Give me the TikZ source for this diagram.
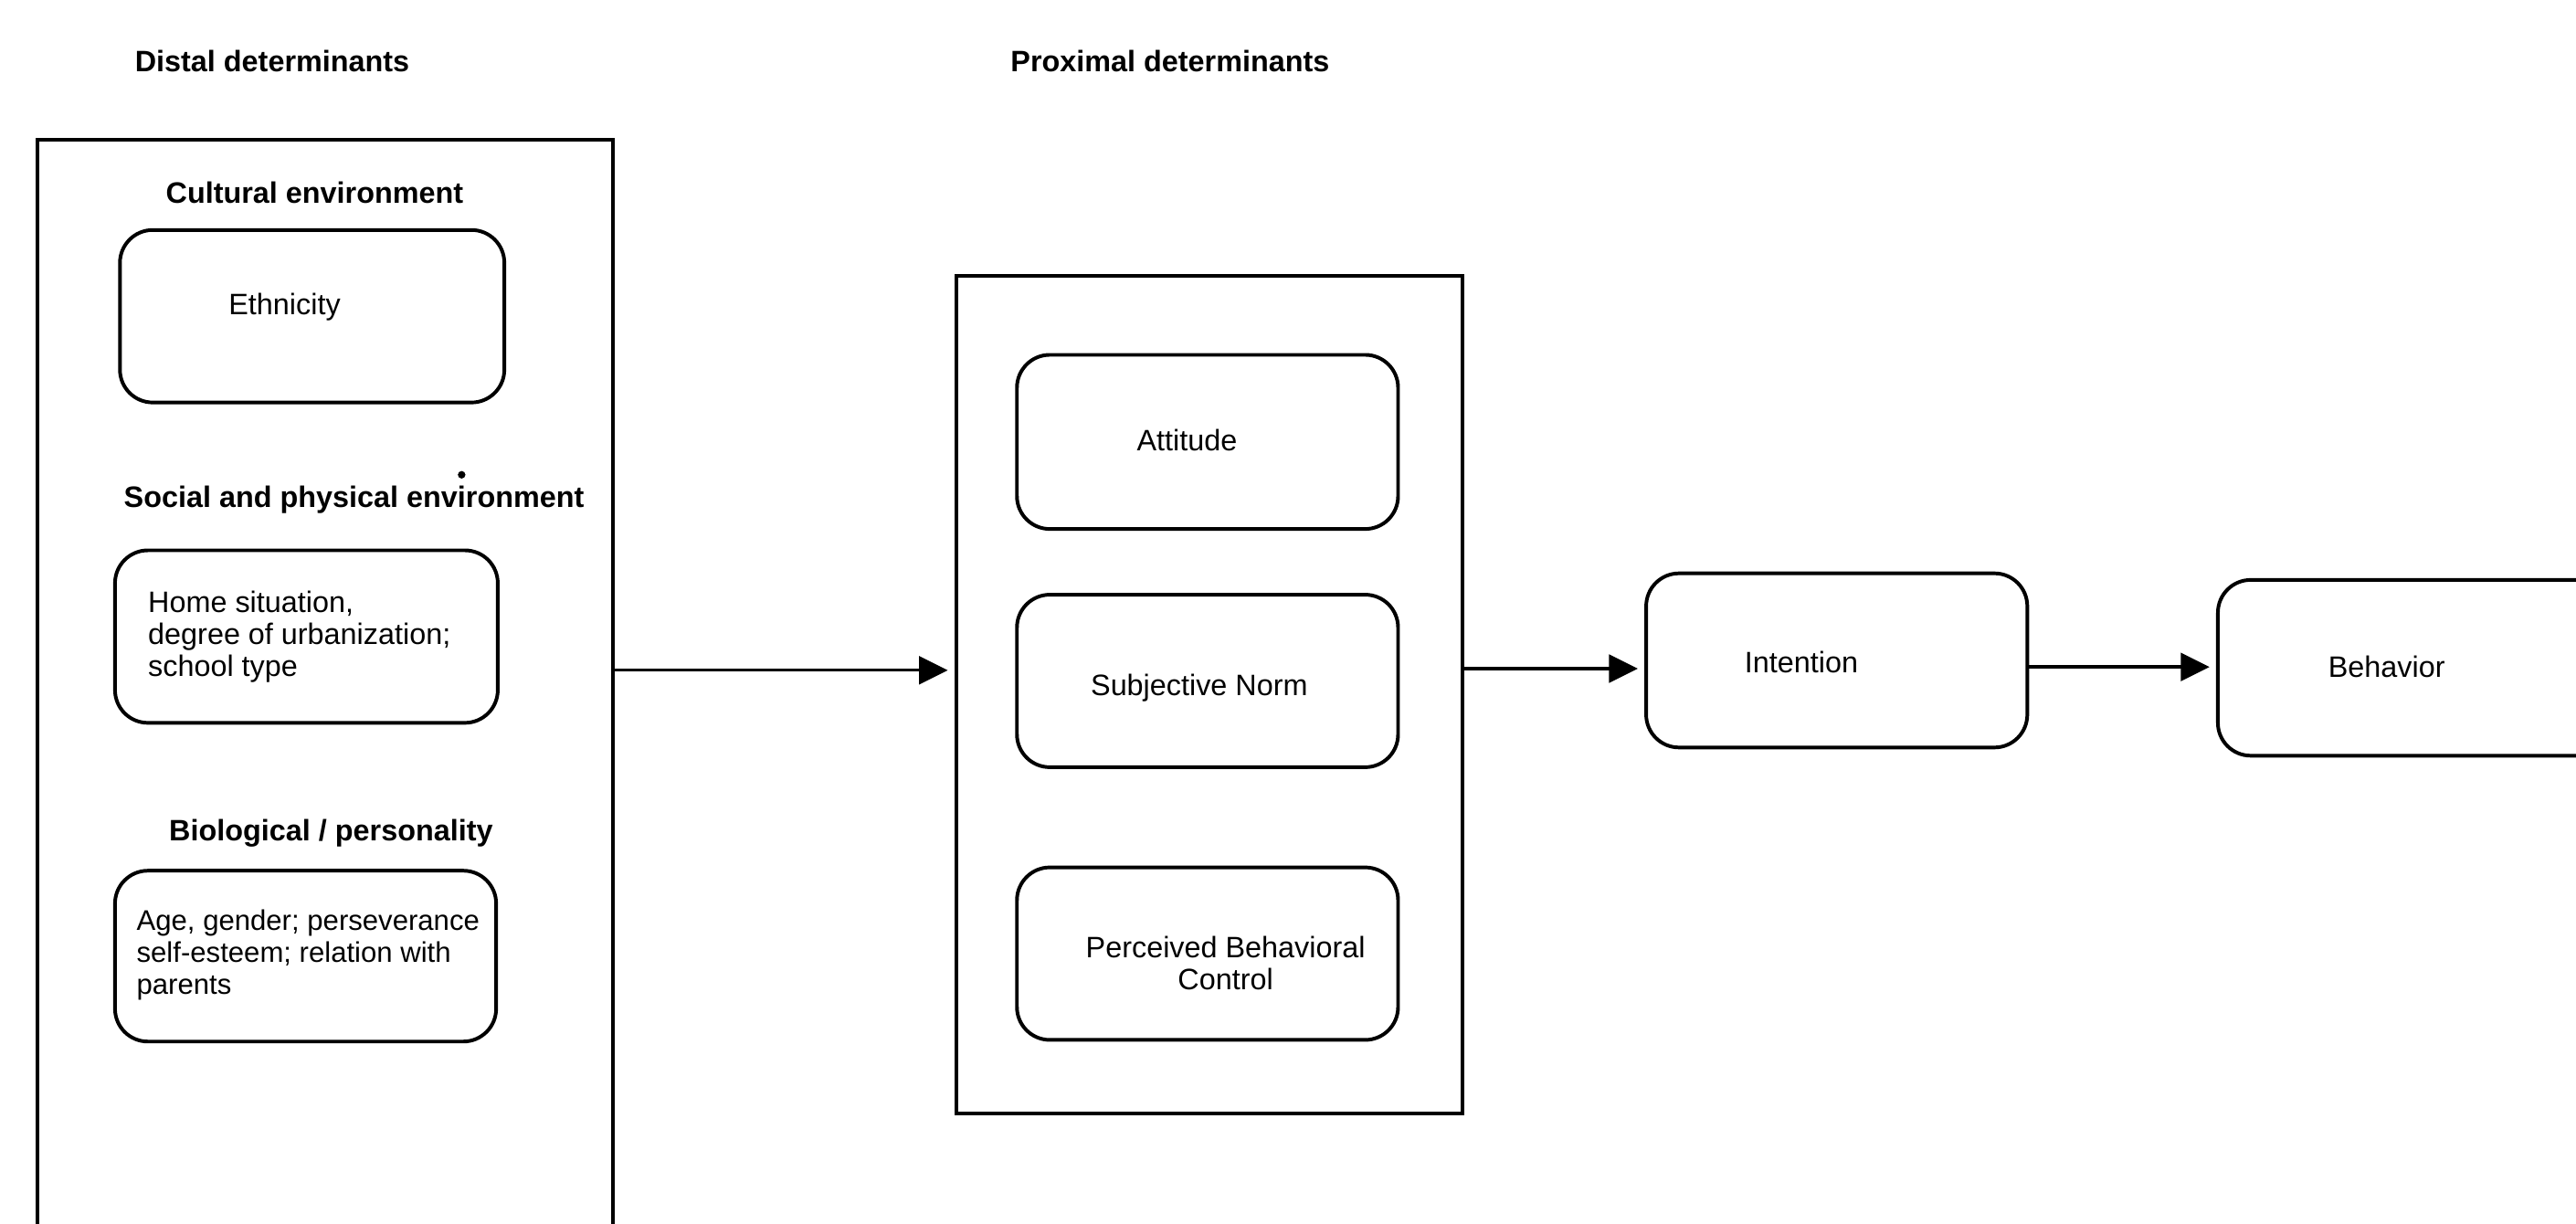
\documentclass[tikz,border=0pt]{standalone}
\usepackage{fontspec}
\setmainfont{Liberation Sans}
\usetikzlibrary{arrows.meta}

\begin{document}
\begin{tikzpicture}[x=1pt,y=-1pt,
  every node/.style={font=\fontsize{18}{19.5}\selectfont},
  frame/.style={draw, line width=2.2pt, inner sep=0pt},
  rbox/.style={draw, line width=2.2pt, rounded corners=20pt, inner sep=0pt},
  heading/.style={font=\fontsize{18}{19.5}\selectfont\bfseries, inner sep=0pt},
  txt/.style={inner sep=0pt, align=left},
  flow/.style={line width=1.9pt, -{Triangle[length=17.5pt,width=17pt]}, shorten >=4pt}
]
\useasboundingbox (0,0) rectangle (1568,745);
\clip (0,0) rectangle (1568,745);

% column headings
\node[heading, anchor=west] (hdist) at (82,37) {Distal determinants};
\node[heading, anchor=west] (hprox) at (615,37) {Proximal determinants};

% distal column frame (runs past the lower edge)
\node[frame, minimum width=350pt, minimum height=700pt] (distal) at (198,435) {};

% cultural environment
\node[heading] (hcult) at (191.5,117) {Cultural environment};
\node[rbox, minimum width=234pt, minimum height=105pt] (eth) at (190,192.5) {};
\node[txt, anchor=west] (teth) at (139,187) {Ethnicity};

% social and physical environment
\fill (281,289) circle (2.3pt);
\node[heading] (hsoc) at (215.5,304) {Social and physical environment};
\node[rbox, minimum width=233pt, minimum height=105pt] (home) at (186.5,387.5) {};
\node[txt, anchor=west] (thome) at (90,387.5) {Home situation,\\degree of urbanization;\\school type};

% biological / personality
\node[heading] (hbio) at (201.5,507) {Biological / personality};
\node[rbox, minimum width=232pt, minimum height=104pt] (age) at (186,582) {};
\node[txt, anchor=west, font=\fontsize{17.3}{19.5}\selectfont] (tage) at (83,581.5) {Age, gender; perseverance\\self-esteem; relation with\\parents};

% proximal column frame
\node[frame, minimum width=308pt, minimum height=510pt] (prox) at (736,423) {};
\node[rbox, minimum width=232pt, minimum height=106pt] (att) at (735,269) {};
\node[txt] (tatt) at (722.5,268) {Attitude};
\node[rbox, minimum width=232pt, minimum height=105pt] (sn) at (735,414.5) {};
\node[txt] (tsn) at (730,419) {Subjective Norm};
\node[rbox, minimum width=232pt, minimum height=105pt] (pbc) at (735,580.5) {};
\node[txt, align=center] (tpbc) at (746,586.5) {Perceived Behavioral\\Control};

% intention and behavior
\node[rbox, minimum width=232pt, minimum height=106pt] (intent) at (1118,402) {};
\node[txt] (tint) at (1096.5,403) {Intention};
\node[rbox, minimum width=300pt, minimum height=107pt] (beh) at (1500,406.5) {};
\node[txt, anchor=west] (tbeh) at (1417,406) {Behavior};

% causal arrows
\draw[flow] (distal.east |- 0,408) -- (prox.west |- 0,408);
\draw[flow] (prox.east |- 0,407) -- (intent.west |- 0,407);
\draw[flow] (intent.east |- 0,406) -- (beh.west |- 0,406);
\end{tikzpicture}
\end{document}
